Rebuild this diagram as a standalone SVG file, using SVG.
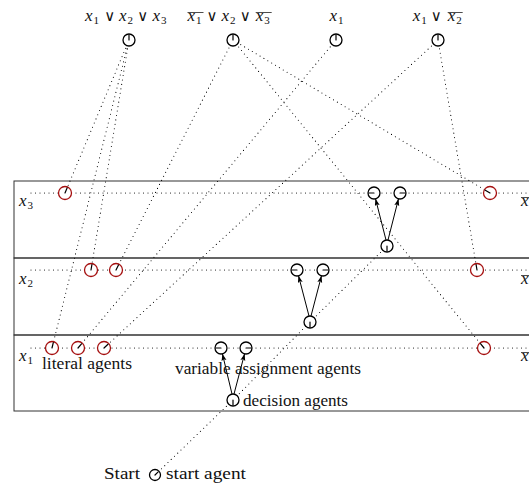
<svg xmlns="http://www.w3.org/2000/svg" width="529" height="488" viewBox="0 0 529 488">
<style>
.box{fill:none;stroke:#333;stroke-width:1}
.dot{fill:none;stroke:#000;stroke-width:1.1;stroke-linecap:round;stroke-dasharray:0 4.5}
.ag{fill:#fff;stroke:#000;stroke-width:1.3}
.lit{fill:#fff;stroke:#a50f0f;stroke-width:1.3}
.hand{stroke:#000;stroke-width:1.2;stroke-linecap:round}
.arr{stroke:#000;stroke-width:1;fill:none}
.bar{stroke:#000;stroke-width:0.7}
.lbl{font-family:"Liberation Serif","Times New Roman",serif;font-size:16px;fill:#111}
.mx{font-family:"Liberation Serif","Times New Roman",serif;font-style:italic;font-size:17px;fill:#111}
.ms{font-family:"Liberation Serif","Times New Roman",serif;font-size:11px;fill:#111}
.mo{font-family:"DejaVu Serif",serif;font-size:15px;fill:#111}
</style>
<defs>
<marker id="ah" markerUnits="userSpaceOnUse" markerWidth="8" markerHeight="6" refX="7" refY="2.5" orient="auto">
<path d="M0,0 L7,2.5 L0,5 L1.5,2.5 z" fill="#000"/>
</marker>
</defs>

<g id="rows">
<rect class="box" x="14" y="181" width="530" height="77"/>
<rect class="box" x="14" y="258" width="530" height="77"/>
<rect class="box" x="14" y="335" width="530" height="76"/>
</g>

<g id="connectors">
<line class="dot" x1="31" y1="193" x2="529" y2="193"/>
<line class="dot" x1="31" y1="270" x2="529" y2="270"/>
<line class="dot" x1="31" y1="348" x2="529" y2="348"/>
<line class="dot" x1="129" y1="40" x2="65" y2="193"/>
<line class="dot" x1="129" y1="40" x2="91" y2="270"/>
<line class="dot" x1="129" y1="40" x2="52" y2="348"/>
<line class="dot" x1="233" y1="40" x2="116" y2="270"/>
<line class="dot" x1="233" y1="40" x2="490" y2="193"/>
<line class="dot" x1="233" y1="40" x2="484" y2="348"/>
<line class="dot" x1="336" y1="40" x2="78" y2="348"/>
<line class="dot" x1="438" y1="40" x2="104" y2="348"/>
<line class="dot" x1="438" y1="40" x2="477" y2="270"/>
<line class="dot" x1="155" y1="475" x2="233" y2="400"/>
<line class="dot" x1="233" y1="400" x2="310" y2="322"/>
<line class="dot" x1="310" y1="322" x2="387" y2="246"/>
<line class="arr" x1="386" y1="240" x2="375.5" y2="198.8" marker-end="url(#ah)"/>
<line class="arr" x1="388" y1="240" x2="398.5" y2="198.8" marker-end="url(#ah)"/>
<line class="arr" x1="309" y1="316" x2="298.5" y2="275.8" marker-end="url(#ah)"/>
<line class="arr" x1="311" y1="316" x2="321.5" y2="275.8" marker-end="url(#ah)"/>
<line class="arr" x1="232" y1="394" x2="222.4" y2="353.8" marker-end="url(#ah)"/>
<line class="arr" x1="234" y1="394" x2="244.6" y2="353.8" marker-end="url(#ah)"/>
</g>

<g id="clause1"><circle class="ag" cx="129" cy="40" r="6"/><line class="hand" x1="129" y1="40" x2="129" y2="35"/></g>
<g id="clause2"><circle class="ag" cx="233" cy="40" r="6"/><line class="hand" x1="233" y1="40" x2="233" y2="35"/></g>
<g id="clause3"><circle class="ag" cx="336" cy="40" r="6"/><line class="hand" x1="336" y1="40" x2="336" y2="35"/></g>
<g id="clause4"><circle class="ag" cx="438" cy="40" r="6"/><line class="hand" x1="438" y1="40" x2="438" y2="35"/></g>

<g id="lit-x3-1"><circle class="lit" cx="65" cy="193" r="6.5"/><line class="hand" x1="65" y1="193" x2="67.1" y2="187.9"/></g>
<g id="lit-x2-1"><circle class="lit" cx="91" cy="270" r="6.5"/><line class="hand" x1="91" y1="270" x2="91.9" y2="264.6"/></g>
<g id="lit-x2-2"><circle class="lit" cx="116" cy="270" r="6.5"/><line class="hand" x1="116" y1="270" x2="118.5" y2="265.1"/></g>
<g id="lit-x1-1"><circle class="lit" cx="52" cy="348" r="6.5"/><line class="hand" x1="52" y1="348" x2="53.3" y2="342.7"/></g>
<g id="lit-x1-2"><circle class="lit" cx="78" cy="348" r="6.5"/><line class="hand" x1="78" y1="348" x2="81.5" y2="343.8"/></g>
<g id="lit-x1-3"><circle class="lit" cx="104" cy="348" r="6.5"/><line class="hand" x1="104" y1="348" x2="108" y2="344.3"/></g>
<g id="lit-nx3"><circle class="lit" cx="490" cy="193" r="6.5"/><line class="hand" x1="490" y1="193" x2="485.3" y2="190.2"/></g>
<g id="lit-nx2"><circle class="lit" cx="477" cy="270" r="6.5"/><line class="hand" x1="477" y1="270" x2="476.1" y2="264.6"/></g>
<g id="lit-nx1"><circle class="lit" cx="484" cy="348" r="6.5"/><line class="hand" x1="484" y1="348" x2="480.5" y2="343.7"/></g>

<g id="assign-x3-f"><circle class="ag" cx="374" cy="193" r="6"/><line class="hand" x1="374" y1="193" x2="369" y2="193"/></g>
<g id="assign-x3-t"><circle class="ag" cx="400" cy="193" r="6"/><line class="hand" x1="400" y1="193" x2="405" y2="193"/></g>
<g id="assign-x2-f"><circle class="ag" cx="297" cy="270" r="6"/><line class="hand" x1="297" y1="270" x2="292" y2="270"/></g>
<g id="assign-x2-t"><circle class="ag" cx="323" cy="270" r="6"/><line class="hand" x1="323" y1="270" x2="328" y2="270"/></g>
<g id="assign-x1-f"><circle class="ag" cx="221" cy="348" r="6"/><line class="hand" x1="221" y1="348" x2="216" y2="348"/></g>
<g id="assign-x1-t"><circle class="ag" cx="246" cy="348" r="6"/><line class="hand" x1="246" y1="348" x2="251" y2="348"/></g>

<g id="decide-x3"><circle class="ag" cx="387" cy="246" r="6"/><line class="hand" x1="387" y1="246" x2="387" y2="251"/></g>
<g id="decide-x2"><circle class="ag" cx="310" cy="322" r="6"/><line class="hand" x1="310" y1="322" x2="310" y2="327"/></g>
<g id="decide-x1"><circle class="ag" cx="233" cy="400" r="6"/><line class="hand" x1="233" y1="400" x2="233" y2="405"/></g>

<g id="start"><circle class="ag" cx="155" cy="475" r="5.5"/><line class="hand" x1="155" y1="475" x2="158.2" y2="471.9"/></g>

<g id="labels">
<text class="mx" x="85" y="21">x</text><text class="ms" x="93.5" y="24">1</text>
<text class="mo" x="109.7" y="21" text-anchor="middle">∨</text>
<text class="mx" x="119" y="21">x</text><text class="ms" x="127.5" y="24">2</text>
<text class="mo" x="142.8" y="21" text-anchor="middle">∨</text>
<text class="mx" x="152.5" y="21">x</text><text class="ms" x="161" y="24">3</text>

<line class="bar" x1="187.5" y1="12.5" x2="203.5" y2="12.5"/>
<text class="mx" x="187.5" y="21">x</text><text class="ms" x="196" y="24">1</text>
<text class="mo" x="212" y="21" text-anchor="middle">∨</text>
<text class="mx" x="221.5" y="21">x</text><text class="ms" x="230" y="24">2</text>
<text class="mo" x="245.3" y="21" text-anchor="middle">∨</text>
<line class="bar" x1="255.7" y1="12.5" x2="271.7" y2="12.5"/>
<text class="mx" x="255.7" y="21">x</text><text class="ms" x="264.2" y="24">3</text>

<text class="mx" x="329.5" y="21">x</text><text class="ms" x="338" y="24">1</text>

<text class="mx" x="412.7" y="21">x</text><text class="ms" x="421.2" y="24">1</text>
<text class="mo" x="436.3" y="21" text-anchor="middle">∨</text>
<line class="bar" x1="447.7" y1="12.5" x2="462.7" y2="12.5"/>
<text class="mx" x="447.7" y="21">x</text><text class="ms" x="456.2" y="24">2</text>

<text class="mx" x="19" y="206">x</text><text class="ms" x="27.5" y="209">3</text>
<text class="mx" x="19" y="284">x</text><text class="ms" x="27.5" y="287">2</text>
<text class="mx" x="19" y="361">x</text><text class="ms" x="27.5" y="364">1</text>

<line class="bar" x1="521" y1="197.5" x2="535" y2="197.5"/>
<text class="mx" x="521" y="206">x</text>
<line class="bar" x1="521" y1="275.5" x2="535" y2="275.5"/>
<text class="mx" x="521" y="284">x</text>
<line class="bar" x1="521" y1="352.5" x2="535" y2="352.5"/>
<text class="mx" x="521" y="361">x</text>

<text class="lbl" x="42" y="369" textLength="90" lengthAdjust="spacingAndGlyphs">literal agents</text>
<text class="lbl" x="175" y="374" textLength="186" lengthAdjust="spacingAndGlyphs">variable assignment agents</text>
<text class="lbl" x="243" y="406" textLength="105" lengthAdjust="spacingAndGlyphs">decision agents</text>
<text class="lbl" x="104" y="479" textLength="36" lengthAdjust="spacingAndGlyphs">Start</text>
<text class="lbl" x="166" y="479" textLength="80" lengthAdjust="spacingAndGlyphs">start agent</text>
</g>
</svg>
